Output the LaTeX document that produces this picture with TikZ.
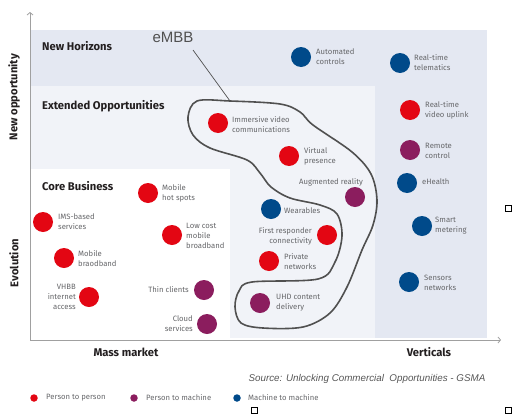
\documentclass[tikz,border=0pt]{standalone}
\usepackage{fontspec}
\setmainfont{Fira Sans}
\newfontfamily\arialfont{Liberation Sans}
\usetikzlibrary{arrows.meta}
\definecolor{p2p}{HTML}{E30613}
\definecolor{p2m}{HTML}{8B1D5E}
\definecolor{m2m}{HTML}{004A8A}
\definecolor{bandA}{HTML}{E4E8F2}
\definecolor{bandB}{HTML}{F1F3F8}
\definecolor{txtgray}{HTML}{66676A}
\definecolor{axisgray}{HTML}{A0A0A0}
\definecolor{ttl}{HTML}{231F20}
\definecolor{blobgray}{HTML}{505050}
\definecolor{srcgray}{HTML}{555555}
\begin{document}
\begin{tikzpicture}[x=1pt,y=-1pt,
  dot/.style={circle,inner sep=0pt,minimum size=20pt},
  pp/.style={dot,fill=p2p}, pm/.style={dot,fill=p2m}, mm/.style={dot,fill=m2m},
  legdot/.style={circle,inner sep=0pt,minimum size=7.5pt},
  lbl/.style={text=txtgray,font=\fontsize{7.7}{10}\selectfont,inner sep=0pt,align=left,anchor=west},
  lblr/.style={lbl,align=right,anchor=east},
  zone/.style={font=\fontsize{11.2}{13}\bfseries\selectfont,text=ttl,anchor=west,inner sep=0pt},
  axislabel/.style={font=\fontsize{11.2}{13}\bfseries\selectfont,text=ttl,inner sep=0pt},
  axisline/.style={draw=axisgray,line width=0.8pt,-{Straight Barb[length=2.5pt,width=6pt]}},
  handle/.style={draw=black,line width=0.7pt,fill=white,minimum size=6pt,inner sep=0pt}
]
\useasboundingbox (0,0) rectangle (513,415);

% background zones
\fill[bandA] (31,30) rectangle (487,338);
\fill[bandB] (31,86) rectangle (375,338);
\fill[white] (31,169) rectangle (230,338);

% axes
\coordinate (O) at (30,340);
\coordinate (ytop) at (30,12);
\coordinate (xend) at (501,340);
\draw[axisline] (O) -- (ytop);
\draw[axisline] (O) -- (xend);
\node[axislabel,rotate=90] (ylab1) at (14,97) {New opportunity};
\node[axislabel,rotate=90] (ylab2) at (14,263) {Evolution};
\node[axislabel] (xlab1) at (126,352) {Mass market};
\node[axislabel] (xlab2) at (429,352) {Verticals};

% zone titles
\node[zone] (z1) at (42,46) {New Horizons};
\node[zone] (z2) at (42,106) {Extended Opportunities};
\node[zone] (z3) at (42,186) {Core Business};

% eMBB outline
\draw[line width=1.6pt,draw=blobgray] plot[smooth cycle,tension=0.55] coordinates {
  (197,101) (230,101) (280,104) (300,112) (313,125) (352,152) (371,174)
  (377,200) (373,225) (362,250) (347,287) (330,313) (303,327) (263,328)
  (241,323) (235,307) (239,291) (252,282) (318,279) (335,262) (342,236)
  (337,214) (320,205) (290,198) (271,187) (260,173) (247,160) (210,148)
  (193,135) (188,117)};
\node[font=\arialfont\fontsize{15}{15}\selectfont,text=blobgray] (embb) at (173,37) {eMBB};
\coordinate (embbtip) at (193,50);
\coordinate (blobtop) at (230,101);
\draw[blobgray,line width=0.7pt] (embbtip) -- (blobtop);

% services
\node[pp] (imm) at (218,123) {};
\node[lbl] (immL) at (232,124.5) {Immersive video\\communications};
\node[pp] (vir) at (289,156) {};
\node[lbl] (virL) at (304,156) {Virtual\\presence};
\node[pm] (aug) at (355,197) {};
\node[lblr] (augL) at (363,182) {Augmented reality};
\node[mm] (wea) at (271,209) {};
\node[lbl] (weaL) at (284,211) {Wearables};
\node[pp] (fir) at (327,235) {};
\node[lblr] (firL) at (312,236) {First responder\\connectivity};
\node[pp] (pri) at (269,261) {};
\node[lbl] (priL) at (284,262) {Private\\networks};
\node[pm] (uhd) at (260,303) {};
\node[lbl] (uhdL) at (276,303) {UHD content\\delivery};

\node[mm] (aut) at (301,57) {};
\node[lbl] (autL) at (316,57) {Automated\\controls};
\node[mm] (tel) at (400,63) {};
\node[lbl] (telL) at (414,62.5) {Real-time\\telematics};
\node[pp] (upl) at (410,110) {};
\node[lbl] (uplL) at (425,110) {Real-time\\video uplink};
\node[pm] (rem) at (410,150) {};
\node[lbl] (remL) at (425,151) {Remote\\control};
\node[mm] (ehe) at (407,183) {};
\node[lbl] (eheL) at (422,182) {eHealth};
\node[mm] (sma) at (422,226) {};
\node[lbl] (smaL) at (435,226) {Smart\\metering};
\node[mm] (sen) at (409,282) {};
\node[lbl] (senL) at (424,283) {Sensors\\networks};

\node[pp] (hot) at (148,193) {};
\node[lbl] (hotL) at (162,193) {Mobile\\hot spots};
\node[pp] (ims) at (43,222) {};
\node[lbl] (imsL) at (58,222) {IMS-based\\services};
\node[pp] (low) at (172,235) {};
\node[lbl] (lowL) at (186,236) {Low cost\\mobile\\broadband};
\node[pp] (mob) at (64,258) {};
\node[lbl] (mobL) at (78,259) {Mobile\\braodband};
\node[pp] (vhb) at (89,297) {};
\node[lblr] (vhbL) at (76,297) {VHBB\\internet\\access};
\node[pm] (thi) at (204,290) {};
\node[lblr] (thiL) at (189,290) {Thin clients};
\node[pm] (clo) at (207,324) {};
\node[lblr] (cloL) at (193,324) {Cloud\\services};

% source
\node[font=\arialfont\itshape\fontsize{9.8}{11}\selectfont,text=srcgray] (src) at (367,379)
  {Source: Unlocking Commercial\ \ Opportunities - GSMA};

% legend
\node[legdot,fill=p2p] (lg1) at (34,398) {};
\node[lbl] (lg1L) at (46,398) {Person to person};
\node[legdot,fill=p2m] (lg2) at (134,398) {};
\node[lbl] (lg2L) at (146,398) {Person to machine};
\node[legdot,fill=m2m] (lg3) at (237,398) {};
\node[lbl] (lg3L) at (248,398) {Machine to machine};

% handles
\node[handle] (h1) at (508,208) {};
\node[handle] (h2) at (254,410) {};
\node[handle] (h3) at (508,410) {};
\end{tikzpicture}
\end{document}
